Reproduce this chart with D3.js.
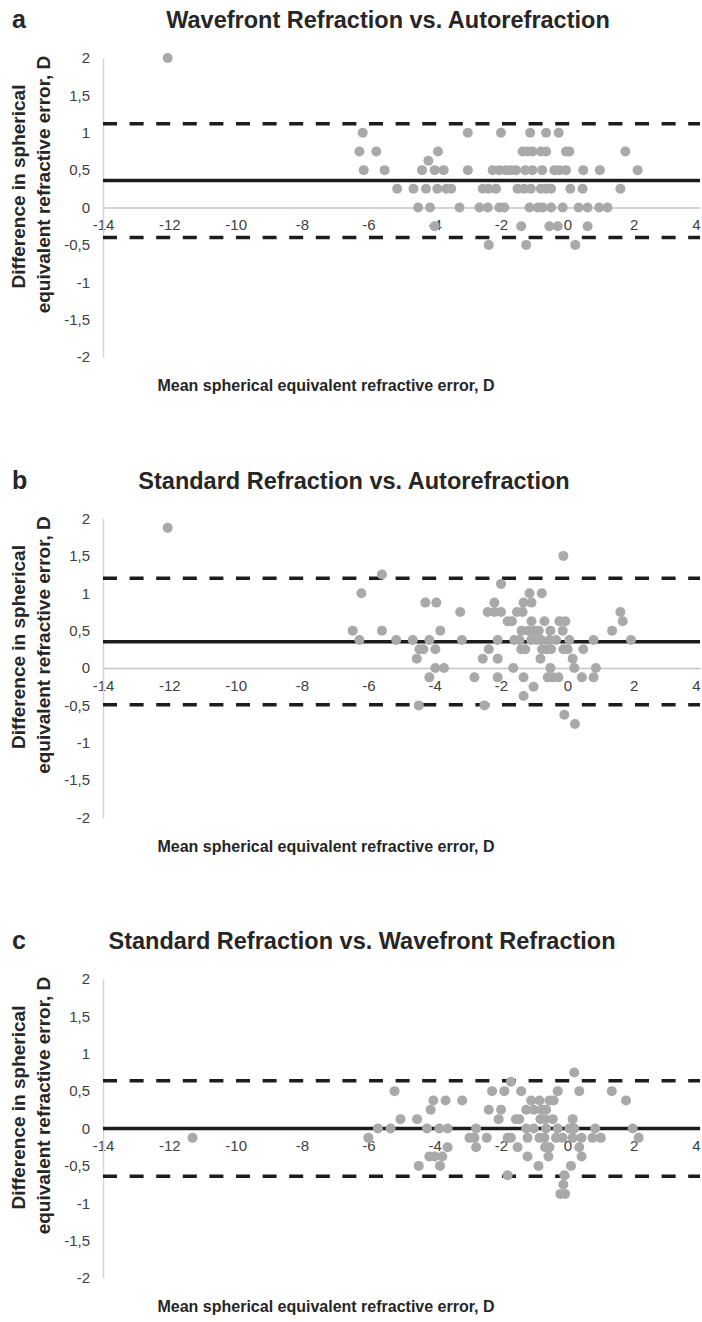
<!DOCTYPE html>
<html>
<head>
<meta charset="utf-8">
<script src="https://cdn.jsdelivr.net/npm/d3@7"></script>
<style>
body { margin: 0; background: #fff; }
svg { display: block; font-family: "Liberation Sans", Arial, sans-serif; }
.tick text { fill: #404040; font-size: 15px; }
.title { font-weight: bold; fill: #262626; }
</style>
</head>
<body>
<div id="chart"></div>
<script>
var width = 702, height = 1322;

var panelLetters = ["a", "b", "c"];
var panelTitles = ["Wavefront Refraction vs. Autorefraction",
                   "Standard Refraction vs. Autorefraction",
                   "Standard Refraction vs. Wavefront Refraction"];
var titleCenters = [388, 354, 362];
var xTicks = [-14, -12, -10, -8, -6, -4, -2, 0, 2, 4];
var yTicks = [-2, -1.5, -1, -0.5, 0, 0.5, 1, 1.5, 2];

// mean difference and limits of agreement per panel
var meanDiff = [0.36, 0.35, 0];
var upperLoA = [1.12, 1.2, 0.64];
var lowerLoA = [-0.40, -0.49, -0.64];

// panel a: wavefront vs autorefraction
var aMean = [-12.05,
  -6.17, -3.0, -2.0, -1.12, -0.64, -0.26,
  -6.27, -5.76, -3.9, -1.35, -1.2, -1.05, -0.8, -0.64, -0.04, 0.06, 1.75,
  -4.19,
  -6.14, -5.51, -4.38, -4.0, -3.73, -3.0, -2.25, -2.05, -1.85, -1.7, -1.55, -1.27, -1.05, -0.76, -0.39, -0.24, -0.04, 0.48, 0.98, 2.12,
  -5.13, -4.64, -4.26, -3.92, -3.65, -3.5, -2.55, -2.37, -2.15, -1.5, -1.3, -1.1, -0.8, -0.64, -0.49, 0.09, 0.46, 1.6,
  -4.5, -4.14, -3.25, -2.65, -2.4, -2.05, -1.9, -1.14, -0.89, -0.74, -0.49, -0.14, 0.34, 0.61, 0.96, 1.21,
  -4.0, -1.39, -0.54, -0.29, 0.61,
  -2.37, -1.24, 0.24];
var aDiff = [2.0,
  1, 1, 1, 1, 1, 1,
  0.75, 0.75, 0.75, 0.75, 0.75, 0.75, 0.75, 0.75, 0.75, 0.75, 0.75,
  0.625,
  0.5, 0.5, 0.5, 0.5, 0.5, 0.5, 0.5, 0.5, 0.5, 0.5, 0.5, 0.5, 0.5, 0.5, 0.5, 0.5, 0.5, 0.5, 0.5, 0.5,
  0.25, 0.25, 0.25, 0.25, 0.25, 0.25, 0.25, 0.25, 0.25, 0.25, 0.25, 0.25, 0.25, 0.25, 0.25, 0.25, 0.25, 0.25,
  0, 0, 0, 0, 0, 0, 0, 0, 0, 0, 0, 0, 0, 0, 0, 0,
  -0.25, -0.25, -0.25, -0.25, -0.25,
  -0.5, -0.5, -0.5];

// panel b: standard vs autorefraction
var bMean = [-12.05, -5.59, -0.12, -2.0,
  -6.21, -1.14, -0.77,
  -4.28, -3.95, -2.2, -1.32, -1.08,
  -3.23, -2.4, -2.2, -2.0, -1.52, -1.35, 1.6,
  -1.8, -1.67, -1.08, -0.69, -0.24, -0.06, 1.67,
  -6.47, -5.59, -3.83, -1.38, -1.17, -0.99, -0.86, -0.51, -0.14, 1.35,
  -6.27, -5.16, -4.66, -4.16, -3.18, -2.1, -1.6, -1.44, -1.09, -0.94, -0.79, -0.54, -0.34, 0.06, 0.79, 1.92,
  -4.46, -4.34, -3.98, -2.37, -1.39, -1.27, -0.76, -0.62, -0.49, -0.12, 0.01, 0.48,
  -4.54, -2.55, -2.1, -0.81, 0.16,
  -3.98, -3.72, -1.63, -0.51, 0.21, 0.86,
  -4.16, -2.8, -2.1, -1.32, -0.59, -0.44, -0.27, 0.44, 0.79,
  -1.02, -1.32,
  -4.48, -2.5,
  -0.09, 0.23];
var bDiff = [1.875, 1.25, 1.5, 1.125,
  1, 1, 1,
  0.875, 0.875, 0.875, 0.875, 0.875,
  0.75, 0.75, 0.75, 0.75, 0.75, 0.75, 0.75,
  0.625, 0.625, 0.625, 0.625, 0.625, 0.625, 0.625,
  0.5, 0.5, 0.5, 0.5, 0.5, 0.5, 0.5, 0.5, 0.5, 0.5,
  0.375, 0.375, 0.375, 0.375, 0.375, 0.375, 0.375, 0.375, 0.375, 0.375, 0.375, 0.375, 0.375, 0.375, 0.375, 0.375,
  0.25, 0.25, 0.25, 0.25, 0.25, 0.25, 0.25, 0.25, 0.25, 0.25, 0.25, 0.25,
  0.125, 0.125, 0.125, 0.125, 0.125,
  0, 0, 0, 0, 0, 0,
  -0.125, -0.125, -0.125, -0.125, -0.125, -0.125, -0.125, -0.125, -0.125,
  -0.25, -0.375,
  -0.5, -0.5,
  -0.625, -0.75];

// panel c: standard vs wavefront
var cMean = [-11.3, 0.21, -1.7,
  -5.21, -2.27, -1.9, -1.39, -0.29, 0.36, 1.34,
  -4.04, -3.67, -3.17, -1.09, -0.84, -0.54, -0.41, 1.77,
  -4.12, -2.37, -2.0, -1.24, -1.01, -0.77, -0.64,
  -5.03, -4.53, -2.07, -1.55, -1.45, -0.81, -0.67, -0.44, 0.16,
  -5.71, -5.33, -4.23, -3.86, -3.61, -2.75, -1.24, -1.01, -0.64, -0.29, 0.06, 0.21, 0.84, 1.97,
  -6.0, -2.95, -2.8, -2.43, -1.8, -1.7, -1.2, -0.84, -0.69, -0.34, -0.14, 0.16, 0.43, 0.76, 1.01, 2.15,
  -3.61, -2.75, -1.5, -0.67, -0.54, 0.36,
  -4.16, -4.0, -3.77, -1.2, -0.57, 0.43,
  -4.48, -3.84, -0.87, 0.11,
  -1.8, -0.09, -0.12,
  -0.21, -0.07];
var cDiff = [-0.125, 0.75, 0.625,
  0.5, 0.5, 0.5, 0.5, 0.5, 0.5, 0.5,
  0.375, 0.375, 0.375, 0.375, 0.375, 0.375, 0.375, 0.375,
  0.25, 0.25, 0.25, 0.25, 0.25, 0.25, 0.25,
  0.125, 0.125, 0.125, 0.125, 0.125, 0.125, 0.125, 0.125, 0.125,
  0, 0, 0, 0, 0, 0, 0, 0, 0, 0, 0, 0, 0, 0,
  -0.125, -0.125, -0.125, -0.125, -0.125, -0.125, -0.125, -0.125, -0.125, -0.125, -0.125, -0.125, -0.125, -0.125, -0.125, -0.125,
  -0.25, -0.25, -0.25, -0.25, -0.25, -0.25,
  -0.375, -0.375, -0.375, -0.375, -0.375, -0.375,
  -0.5, -0.5, -0.5, -0.5,
  -0.625, -0.625, -0.75,
  -0.875, -0.875];

var means = [aMean, bMean, cMean],
    diffs = [aDiff, bDiff, cDiff];

var locale = d3.formatLocale({decimal: ",", thousands: ".", grouping: [3], currency: ["", ""], minus: "-"});
var fmt = locale.format("");

var svg = d3.select("#chart").append("svg")
    .attr("width", width)
    .attr("height", height);

var x = d3.scaleLinear().domain([-14, 4]).range([103, 700]);
var y = d3.scaleLinear().domain([-2, 2]).range([357, 58]);

for (var i = 0; i < 3; i++) {
    var g = svg.append("g")
        .attr("transform", "translate(0," + (i * 460.5) + ")");

    g.append("text")
        .attr("class", "title")
        .attr("x", 12)
        .attr("y", 28)
        .style("font-size", "25px")
        .text(panelLetters[i]);

    g.append("text")
        .attr("class", "title")
        .attr("x", titleCenters[i])
        .attr("y", 28)
        .attr("text-anchor", "middle")
        .style("font-size", "23.5px")
        .text(panelTitles[i]);

    var xAxis = g.append("g")
        .attr("transform", "translate(0," + y(0) + ")")
        .call(d3.axisBottom(x).tickValues(xTicks).tickSize(0).tickPadding(12).tickFormat(fmt));
    xAxis.select(".domain").attr("stroke", "#c4c4c4").attr("stroke-width", 1.5);
    // keep the last label inside the frame
    xAxis.selectAll(".tick text").filter(function(d) { return d === 4; }).attr("dx", -4);

    var yAxis = g.append("g")
        .attr("transform", "translate(" + x(-14) + ",0)")
        .call(d3.axisLeft(y).tickValues(yTicks).tickSize(0).tickPadding(13).tickFormat(fmt));
    yAxis.select(".domain").attr("stroke", "#d4d4d4").attr("stroke-width", 1.5);

    // limits of agreement and mean
    g.append("line")
        .attr("x1", x(-14)).attr("x2", x(4))
        .attr("y1", y(meanDiff[i])).attr("y2", y(meanDiff[i]))
        .attr("stroke", "#1c1c1c").attr("stroke-width", 3.5);

    [upperLoA[i], lowerLoA[i]].forEach(function(v) {
        g.append("line")
            .attr("x1", x(-14)).attr("x2", x(4))
            .attr("y1", y(v)).attr("y2", y(v))
            .attr("stroke", "#1c1c1c").attr("stroke-width", 3.5)
            .attr("stroke-dasharray", "14,12.6");
    });

    var pts = means[i].map(function(m, k) { return {m: m, d: diffs[i][k]}; });
    g.selectAll(".dot")
        .data(pts)
        .enter().append("circle")
        .attr("class", "dot")
        .attr("cx", function(d) { return x(d.m); })
        .attr("cy", function(d) { return y(d.d); })
        .attr("r", 5)
        .attr("fill", "#a9a9a9");

    g.append("text")
        .attr("class", "title")
        .attr("transform", "translate(25," + (y(0) - 21) + ") rotate(-90)")
        .attr("text-anchor", "middle")
        .style("font-size", "19px")
        .text("Difference in spherical");
    g.append("text")
        .attr("class", "title")
        .attr("transform", "translate(50," + (y(0) - 23) + ") rotate(-90)")
        .attr("text-anchor", "middle")
        .style("font-size", "19px")
        .text("equivalent refractive error, D");

    g.append("text")
        .attr("class", "title")
        .attr("x", 326)
        .attr("y", 391)
        .attr("text-anchor", "middle")
        .style("font-size", "16px")
        .text("Mean spherical equivalent refractive error, D");
}
</script>
</body>
</html>
